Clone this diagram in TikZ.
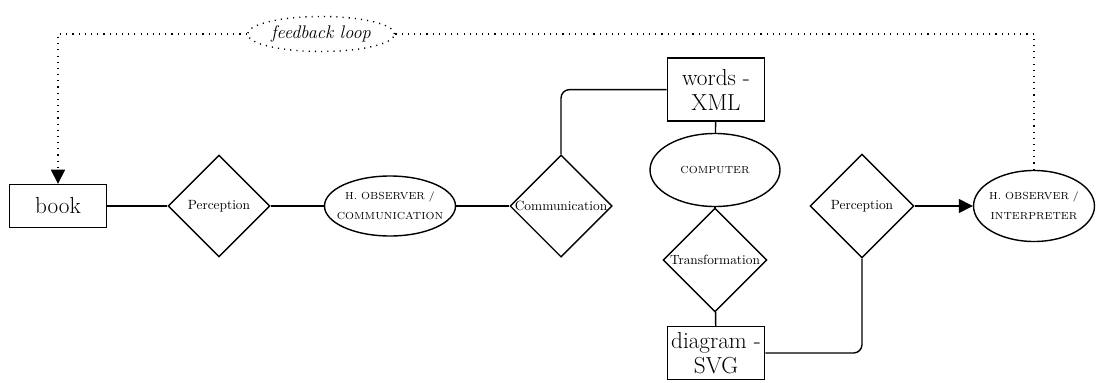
\documentclass[tikz,border=0pt]{standalone}
\usepackage{fontspec}
\usepackage{tikz}
\usetikzlibrary{shapes.geometric,arrows.meta,positioning}
\tikzset{
    entity/.style={rectangle, draw, line width=1pt, minimum width=2.43cm, inner xsep=0pt, inner ysep=1pt,
                   align=center, font=\fontsize{16.5}{18}\selectfont},
    relation/.style={diamond, draw, line width=1pt, aspect=1, minimum size=2.55cm, inner sep=0pt,
                     font=\fontsize{9.5}{11}\selectfont},
    agent/.style={ellipse, draw, line width=1pt, inner xsep=-6pt, inner ysep=0pt, align=center,
                  font=\fontsize{7.3}{14}\selectfont\addfontfeature{LetterSpace=12}},
    loopnote/.style={ellipse, draw, line width=1pt, dash pattern=on 0.8pt off 3.6pt,
                     minimum width=3.675cm, minimum height=0.875cm, inner sep=0pt,
                     font=\fontsize{13}{15}\selectfont\itshape},
    edge/.style={draw, line width=1pt, rounded corners=6pt},
    arc/.style={draw, line width=1pt, -{Triangle[length=10pt, width=10pt]}},
    feedback/.style={draw, line width=1pt, dash pattern=on 0.8pt off 3.6pt}
}
\begin{document}
\begin{tikzpicture}
    \useasboundingbox (0,0) rectangle (27.4,-9.55);
    % Nodes
    \node[entity, minimum height=1.075cm] (book) at (1.45,-5.15) {book};
    \node[relation] (perc1) at (5.475,-5.15) {Perception};
    \node[agent, minimum width=3.275cm, minimum height=1.5cm] (obs1) at (9.75,-5.15) {H. OBSERVER /\\COMMUNICATION};
    \node[relation] (comm) at (14.025,-5.15) {Communication};
    \node[entity, minimum height=1.575cm] (words) at (17.9,-2.24) {words -\\XML};
    \node[agent, minimum width=3.25cm, minimum height=1.825cm] (comp) at (17.875,-4.25) {COMPUTER};
    \node[relation, minimum size=2.6cm] (trans) at (17.875,-6.5) {Transformation};
    \node[entity, minimum height=1.325cm] (diag) at (17.9,-8.825) {diagram -\\SVG};
    \node[relation, minimum size=2.6cm] (perc2) at (21.55,-5.15) {Perception};
    \node[agent, minimum width=3.025cm, minimum height=1.775cm] (obs2) at (25.85,-5.15) {H. OBSERVER /\\INTERPRETER};
    \node[loopnote] (fb) at (8.025,-0.85) {feedback loop};

    % edges
    \draw[edge] (book) -- (perc1);
    \draw[edge] (perc1) -- (obs1);
    \draw[edge] (obs1) -- (comm);
    \draw[edge] (comm.north) |- (words.west);
    \draw[edge] (words) -- (comp);
    \draw[edge] (comp) -- (trans);
    \draw[edge] (trans) -- (diag);
    \draw[edge] (diag.east) -| (perc2.south);
    \draw[arc] (perc2) -- (obs2);

    % feedback loop
    \draw[feedback] (obs2.north) |- (fb.east);
    \draw[feedback, -{Triangle[length=10pt, width=10pt]}] (fb.west) -| (book.north);
\end{tikzpicture}
\end{document}
